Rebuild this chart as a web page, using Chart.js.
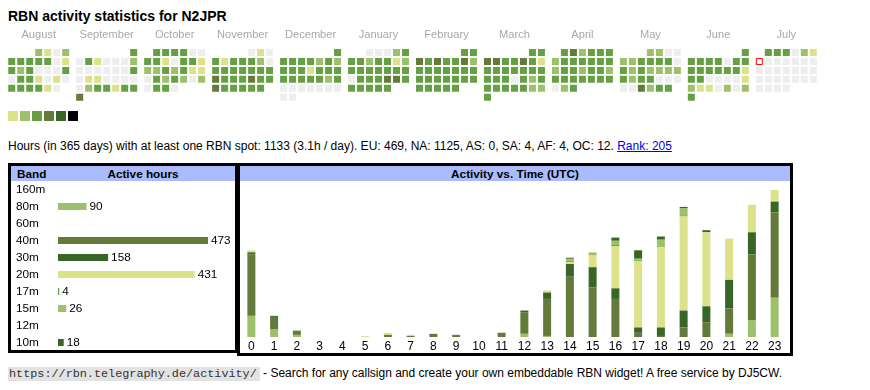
<!DOCTYPE html>
<html><head><meta charset="utf-8">
<script src="https://cdn.jsdelivr.net/npm/chart.js@4/dist/chart.umd.min.js"></script>
<style>
html,body{margin:0;padding:0;background:#fff;}
body{width:870px;height:390px;position:relative;overflow:hidden;font-family:"Liberation Sans",Arial,sans-serif;color:#000;}
.abs{position:absolute;}
#title{left:8px;top:7.5px;font-weight:bold;font-size:14px;line-height:16px;white-space:nowrap;}
#summary{left:8px;top:138.8px;font-size:12px;line-height:14px;white-space:nowrap;}
#summary a{color:#0000ee;text-decoration:underline;}
.box{border:3px solid #000;box-sizing:border-box;}
.hdr{background:#aabbff;font-weight:bold;font-size:11.75px;line-height:15px;height:15px;white-space:nowrap;}
.sq{width:10px;height:10px;top:111px;}
#footer{left:8px;top:365.6px;font-size:12px;line-height:15px;white-space:nowrap;}
#footer code{font-family:"Liberation Mono","Courier New",monospace;font-size:11.8px;background:#e2e2e2;color:#333;padding:0 3px 0 1px;}
canvas{position:absolute;}
</style></head>
<body>
<div id="title" class="abs">RBN activity statistics for N2JPR</div>
<canvas id="cal" width="880" height="79" style="left:-5px;top:28px;"></canvas>
<div id="legend"></div>
<div id="summary" class="abs">Hours (in 365 days) with at least one RBN spot: 1133 (3.1h / day). EU: 469, NA: 1125, AS: 0, SA: 4, AF: 4, OC: 12. <a href="#">Rank: 205</a></div>

<div class="abs box" style="left:8px;top:163px;width:230px;height:190px;"></div>
<div class="abs hdr" style="left:11px;top:166px;width:224px;"><span style="position:absolute;left:6px;">Band</span><span style="position:absolute;left:40px;width:184px;text-align:center;">Active hours</span></div>
<canvas id="bands" width="219" height="170" style="left:16px;top:181px;"></canvas>

<div class="abs box" style="left:237px;top:163px;width:556px;height:193px;"></div>
<div class="abs hdr" style="left:240px;top:166px;width:550px;text-align:center;">Activity vs. Time (UTC)</div>
<canvas id="hours" width="550" height="163" style="left:240px;top:190px;"></canvas>

<div id="footer" class="abs"><code>https://rbn.telegraphy.de/activity/</code> - Search for any callsign and create your own embeddable RBN widget! A free service by DJ5CW.</div>

<script>
// ---------- calendar data (levels 0..6 per day) ----------
const monthNames = ['August','September','October','November','December','January','February','March','April','May','June','July'];
const firstWeekday = [3,6,1,4,6,2,5,5,1,3,6,1]; // Monday = 0
const aug = [2,1,0,2, 3,3,3,3,3,0,1, 3,2,3,0,0,0,3, 0,3,3,1,0,1,0, 3,3,3,3,1,0];
const sep = [3, 0,3,1,0,0,0,2, 0,0,0,0,0,0,3, 0,1,1,0,0,0,0, 0,2,3,3,1,3,3, 4];
const oct = [3,3,3,3,0,0, 3,3,1,0,3,3,1, 2,2,3,2,3,1,1, 0,3,2,3,2,0,2, 0,3,3,0];
const nov = [0,1,0, 3,1,3,3,3,2,0, 3,3,3,3,3,3,3, 4,3,3,3,4,3,3, 4,3,3,3,3,3];
const dec = [3, 3,3,3,3,2,3,2, 3,3,3,1,3,3,3, 3,3,3,3,3,2,3, 0,0,0,0,0,0,0, 0,0];
const jan = [0,0,0,2,3, 3,3,2,3,3,1,2, 3,3,3,3,3,3,3, 0,3,3,3,4,4,3, 3,3,3,3,3];
const feb = [3,3, 4,3,4,3,3,4,2, 3,3,3,3,3,3,3, 3,3,3,3,3,3,3, 3,3,3,3,3];
const mar = [3,3, 4,4,3,3,4,3,1, 3,3,3,3,3,3,3, 3,3,3,0,3,2,3, 3,3,3,3,3,2,2, 3];
const apr = [3,4,2,3,3,3, 2,3,3,3,3,3,3, 2,3,3,2,3,3,2, 3,3,3,3,3,3,3, 0,2,3];
const may = [2,2,0,0, 2,2,3,3,3,3,0, 3,2,3,2,2,2,2, 3,2,3,3,0,0,0, 0,0,4,2,3,3];
const jun = [3, 3,3,3,3,0,3,3, 3,3,3,3,3,3,1, 3,3,0,0,0,0,1, 2,1,1,0,2,0,2, 3];
const jul = [3,3,3,0,2,1, 0,0,0,0,0,0,0, 0,0,0,0,0,0,0, 0,0,0,0,0,0,0, 0,0,0,0];
const dayLevels = [aug, sep, oct, nov, dec, jan, feb, mar, apr, may, jun, jul];
const today = {month: 11, day: 7};

// ---------- band table ----------
const bandNames = ['160m','80m','60m','40m','30m','20m','17m','15m','12m','10m'];
const bandHours = [0, 90, 0, 473, 158, 431, 4, 26, 0, 18];

// ---------- activity vs time (hours per band, UTC 0..23) ----------
const hourLabels = ['0','1','2','3','4','5','6','7','8','9','10','11','12','13','14','15','16','17','18','19','20','21','22','23'];
const h160 = [0,0,0,0,0,0,0,0,0,0,0,0,0,0,0,0,0,0,0,0,0,0,0,0];
const h80  = [20,7,2,0,0,0,0,0,0,0,0,0,3,1,0,0,0,0,0,0,0,3,16,37];
const h60  = [0,0,0,0,0,0,0,0,0,0,0,0,0,0,0,0,0,0,0,0,0,0,0,0];
const h40  = [58,12,4,0,0,0,2,1,3,2,0,3,20,35,57,47,36,4,1,9,14,24,62,81];
const h30  = [2,1,0,0,0,0,0,0,0,0,0,1,2,6,12,19,10,5,8,16,15,27,21,10];
const h20  = [2,0,0,0,0,1,2,1,0,0,0,0,0,2,2,11,40,63,76,89,70,39,26,11];
const h17  = [0,0,0,0,0,0,0,0,0,0,0,0,0,0,1,0,1,1,0,1,0,0,0,0];
const h15  = [0,0,0,0,0,0,0,0,0,0,0,0,0,0,2,3,4,1,7,7,0,0,0,0];
const h12  = [0,0,0,0,0,0,0,0,0,0,0,0,0,0,0,0,0,0,0,0,0,0,0,0];
const h10  = [0,0,0,0,0,0,0,0,0,0,0,0,0,0,1,0,3,8,3,1,2,0,0,0];
const hourSeries = [h160, h80, h60, h40, h30, h20, h17, h15, h12, h10];

// ---------- styles ----------
const levelColors = ['#eeeeee','#dbe28a','#9dc06a','#66a044','#637a3a','#386626','#000000'];
const bandColors = ['#bbbbbb','#9dc06a','#999999','#637a3a','#386626','#dbe28a','#66a044','#9dc06a','#888888','#386626'];
const FONT = "'Liberation Sans', Arial, sans-serif";
Chart.defaults.font.family = FONT;
Chart.defaults.color = '#000';
const noPad = a => { a.paddingLeft = 0; a.paddingRight = 0; a.paddingTop = 0; a.paddingBottom = 0; };

// legend squares (HTML)
const legend = document.getElementById('legend');
levelColors.slice(1).forEach((c, i) => {
  const d = document.createElement('div');
  d.className = 'abs sq';
  d.style.left = (8 + 12 * i) + 'px';
  d.style.background = c;
  legend.appendChild(d);
});

// ---------- calendar chart ----------
const CELL = 9, MONTH_PITCH = 68 / CELL;
const calPoints = [];
dayLevels.forEach((days, m) => {
  days.forEach((lvl, d) => {
    const pos = firstWeekday[m] + d;
    calPoints.push({x: m * MONTH_PITCH + (pos % 7), y: Math.floor(pos / 7), level: lvl,
                    today: (m === today.month && d + 1 === today.day)});
  });
});
new Chart(document.getElementById('cal'), {
  type: 'scatter',
  data: {datasets: [{
    data: calPoints,
    pointStyle: 'rect',
    pointRadius: c => c.raw.today ? 6 / Math.SQRT2 : 7 / Math.SQRT2,
    pointBackgroundColor: c => c.raw.today ? '#ffffff' : levelColors[c.raw.level],
    pointBorderColor: c => c.raw.today ? '#ff0000' : 'rgba(0,0,0,0)',
    pointBorderWidth: c => c.raw.today ? 1 : 0,
    showLine: false
  }]},
  options: {
    responsive: false, animation: false, events: [], devicePixelRatio: 1,
    layout: {padding: {left: 5, right: 5, top: 0, bottom: 5}},
    plugins: {legend: {display: false}, tooltip: {enabled: false}},
    scales: {
      x: {type: 'linear', position: 'top', min: -11.5 / CELL, max: (870 - 11.5) / CELL,
          grid: {display: false, drawTicks: false}, border: {display: false},
          afterBuildTicks: a => { a.ticks = monthNames.map((n, i) => ({value: i * MONTH_PITCH + 3})); },
          afterFit: a => { a.height = 20; noPad(a); },
          ticks: {autoSkip: false, maxRotation: 0, minRotation: 0, color: '#a8a8a8', font: {size: 11.1}, padding: 6,
                  callback: (v, i) => monthNames[i]}},
      y: {type: 'linear', display: false, reverse: true, min: -0.5, max: 5.5}
    }
  }
});

// ---------- band chart ----------
const valueLabels = {
  id: 'valueLabels',
  afterDatasetsDraw(chart) {
    const ctx = chart.ctx;
    const meta = chart.getDatasetMeta(0);
    ctx.save();
    ctx.font = "11.75px " + FONT;
    ctx.fillStyle = '#000';
    ctx.textBaseline = 'middle';
    ctx.textAlign = 'left';
    meta.data.forEach((bar, i) => {
      const v = chart.data.datasets[0].data[i];
      if (v > 0) ctx.fillText(String(v), bar.x + 3, bar.y);
    });
    ctx.restore();
  }
};
new Chart(document.getElementById('bands'), {
  type: 'bar',
  data: {labels: bandNames, datasets: [{data: bandHours, backgroundColor: bandColors, borderWidth: 0, barThickness: 7, inflateAmount: 0}]},
  options: {
    indexAxis: 'y', responsive: false, animation: false, events: [], devicePixelRatio: 1,
    layout: {padding: 0},
    plugins: {legend: {display: false}, tooltip: {enabled: false}},
    scales: {
      y: {grid: {display: false, drawTicks: false}, border: {display: false},
          afterFit: a => { a.width = 42; noPad(a); },
          ticks: {crossAlign: 'far', padding: 0, autoSkip: false, color: '#000', font: {size: 11.75}}},
      x: {display: false, min: 0, max: 558}
    }
  },
  plugins: [valueLabels]
});

// ---------- activity vs time ----------
const maxTotal = Math.max(...hourLabels.map((_, i) => hourSeries.reduce((s, a) => s + a[i], 0)));
new Chart(document.getElementById('hours'), {
  type: 'bar',
  data: {labels: hourLabels, datasets: hourSeries.map((arr, k) => ({
    label: bandNames[k], data: arr, backgroundColor: bandColors[k], borderWidth: 0, barThickness: 8, inflateAmount: 0
  }))},
  options: {
    responsive: false, animation: false, events: [], devicePixelRatio: 1,
    layout: {padding: {left: 0, right: 4, top: 0, bottom: 0}},
    plugins: {legend: {display: false}, tooltip: {enabled: false}},
    scales: {
      x: {stacked: true, grid: {display: false, drawTicks: false}, border: {display: false},
          afterFit: a => { a.height = 16; noPad(a); },
          ticks: {autoSkip: false, maxRotation: 0, padding: 2, color: '#000', font: {size: 12}}},
      y: {stacked: true, display: false, min: 0, max: maxTotal}
    }
  }
});
</script>
</body></html>
